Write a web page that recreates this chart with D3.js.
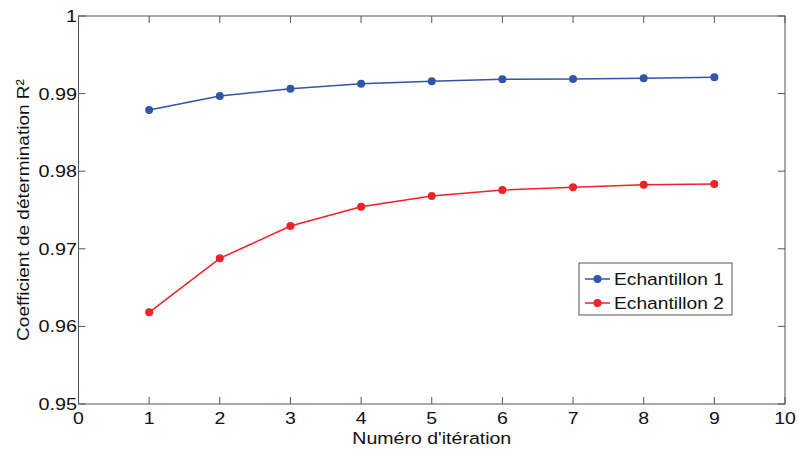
<!DOCTYPE html>
<html><head><meta charset="utf-8">
<script src="https://cdn.jsdelivr.net/npm/d3@7"></script>
<style>body{margin:0;background:#fff}svg{display:block;font-family:"Liberation Sans",Arial,sans-serif}</style>
</head><body><svg id="c" width="799" height="451"></svg>
<script>
const iterations = [1,2,3,4,5,6,7,8,9];
const echantillon1 = [0.98788,0.98969,0.99063,0.99127,0.99158,0.99184,0.99188,0.99197,0.99210];
const echantillon2 = [0.96181,0.96877,0.97293,0.97542,0.97680,0.97757,0.97792,0.97826,0.97835];
const seriesNames = ["Echantillon 1","Echantillon 2"];
const seriesColors = ["#3355a8","#ee2229"];
const xTicks = [0,1,2,3,4,5,6,7,8,9,10];
const yTicks = [0.95,0.96,0.97,0.98,0.99,1];
const yTickLabels = ["0.95","0.96","0.97","0.98","0.99","1"];

const svg = d3.select("#c");
const L=78.5, R=785, T=16, B=404;
const x = d3.scaleLinear().domain([0,10]).range([L,R]);
const y = d3.scaleLinear().domain([0.95,1]).range([B,T]);
const axisColor="#555";
const g = svg.append("g");

function label(parent, tx, ty, str, opts){
  opts = opts||{};
  const sx = opts.sx||1.13;
  return parent.append("text")
    .attr("transform",`translate(${tx},${ty})${opts.rot?` rotate(${opts.rot})`:""} scale(${sx},1)`)
    .attr("text-anchor",opts.anchor||"start")
    .attr("font-size",opts.size||17).attr("fill","#111").text(str);
}

// box
g.append("rect").attr("x",L).attr("y",T).attr("width",R-L).attr("height",B-T)
  .attr("fill","none").attr("stroke",axisColor).attr("stroke-width",1);

const tl=7;
xTicks.forEach(t=>{
  g.append("line").attr("x1",x(t)).attr("x2",x(t)).attr("y1",B).attr("y2",B-tl).attr("stroke",axisColor);
  g.append("line").attr("x1",x(t)).attr("x2",x(t)).attr("y1",T).attr("y2",T+tl).attr("stroke",axisColor);
  label(g, x(t), 424, t, {anchor:"middle", size:16.5, sx:1.18});
});
yTicks.forEach((t,i)=>{
  g.append("line").attr("x1",L).attr("x2",L+tl).attr("y1",y(t)).attr("y2",y(t)).attr("stroke",axisColor);
  g.append("line").attr("x1",R).attr("x2",R-tl).attr("y1",y(t)).attr("y2",y(t)).attr("stroke",axisColor);
  label(g, L-1.5, y(t)+6, yTickLabels[i], {anchor:"end", size:16.5, sx:1.2});
});

// axis titles
label(g, (L+R)/2, 444, "Numéro d'itération", {anchor:"middle", size:17, sx:1.15});
label(g, 28.5, 210, "Coefficient de détermination R²", {anchor:"middle", size:17, sx:1.12, rot:-90});

// series
const line = d3.line().x((d,i)=>x(iterations[i])).y(d=>y(d));
[echantillon1,echantillon2].forEach((s,k)=>{
  g.append("path").datum(s).attr("d",line).attr("fill","none")
   .attr("stroke",seriesColors[k]).attr("stroke-width",1.5);
  g.selectAll(null).data(s).enter().append("circle")
   .attr("cx",(d,i)=>x(iterations[i])).attr("cy",d=>y(d)).attr("r",4)
   .attr("fill",seriesColors[k]);
});

// legend
const lg = g.append("g");
lg.append("rect").attr("x",579).attr("y",263).attr("width",153).attr("height",52)
  .attr("fill","#fff").attr("stroke",axisColor);
seriesNames.forEach((n,k)=>{
  const cy = 279 + k*24;
  lg.append("line").attr("x1",585).attr("x2",610).attr("y1",cy).attr("y2",cy)
    .attr("stroke",seriesColors[k]).attr("stroke-width",1.5);
  lg.append("circle").attr("cx",597.5).attr("cy",cy).attr("r",4).attr("fill",seriesColors[k]);
  label(lg, 614, cy+5.5, n, {size:17, sx:1.13});
});
</script></body></html>
